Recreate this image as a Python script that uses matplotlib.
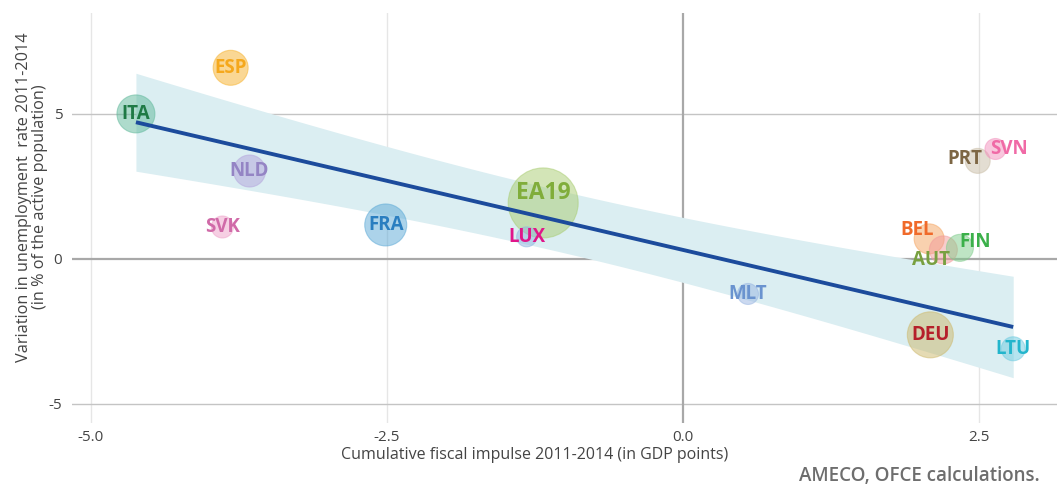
import numpy as np
import matplotlib
matplotlib.use("Agg")
import matplotlib.pyplot as plt

plt.rcParams['font.family'] = ['Open Sans', 'DejaVu Sans']
plt.rcParams['axes.unicode_minus'] = False

# Data
paises = ['ITA', 'ESP', 'NLD', 'SVK', 'FRA', 'EA19', 'LUX', 'MLT',
          'PRT', 'SVN', 'BEL', 'AUT', 'FIN', 'DEU', 'LTU']
impulso = [-4.62, -3.82, -3.66, -3.89, -2.51, -1.18, -1.32, 0.55,
           2.49, 2.64, 2.08, 2.20, 2.34, 2.09, 2.79]
paro = [5.00, 6.59, 3.03, 1.10, 1.17, 1.93, 0.76, -1.21,
        3.38, 3.79, 0.69, 0.31, 0.38, -2.62, -3.10]
peso = [19, 17.5, 16, 11, 21, 35, 10, 10.5, 12.5, 10.5, 15, 14, 13.5, 23, 12]

# regression fit + confidence band parameters
pendiente = -0.953
ordenada = 0.31
ci_a, ci_b, ci_centro = 1.115, 0.134, -1.02

color_texto = ['#1f7a45', '#f5a81c', '#9484c4', '#d06aa8', '#2a7ec0', '#80ad3a',
               '#e0168a', '#6a93cf', '#7d6644', '#f06aa6', '#f06a2a', '#78a040',
               '#3bb04a', '#b5202a', '#22b5cc']
color_burbuja = ['#5fb89a', '#f7b12a', '#b3a3dc', '#eea0c8', '#5aa8d6', '#a8cc70',
                 '#8fb5df', '#98b5e2', '#c9bda6', '#f291bd', '#f5a460', '#f29a9a',
                 '#7fcc8b', '#cdb86a', '#6ccbe0']
# label offsets in points (most labels centred on the bubble)
desplaz = {'EA19': (0, 7), 'PRT': (-9, 1.5), 'SVN': (10, 0), 'BEL': (-9, 6.5),
           'AUT': (-9, -7), 'FIN': (11, 4.5)}

fig = plt.figure(figsize=(10.61, 4.84), dpi=100)
ax = fig.add_axes([72 / 1061, 1 - 423 / 484, (1057 - 72) / 1061, (423 - 13) / 484])

ax.set_xlim(-5.16, 3.16)
ax.set_ylim(-5.66, 8.48)

# grid
for xv in [-5.0, -2.5, 2.5]:
    ax.axvline(xv, color='#e6e6e6', lw=1, zorder=0)
for yv in [-5, 5]:
    ax.axhline(yv, color='#c4c4c4', lw=1, zorder=0)
ax.axhline(0, color='#a8a8a8', lw=1.6, zorder=0)
ax.axvline(0, color='#a8a8a8', lw=1.6, zorder=0)

# regression line and confidence band
xs = np.linspace(min(impulso), max(impulso), 200)
ys = ordenada + pendiente * xs
mitad = np.sqrt(ci_a + ci_b * (xs - ci_centro) ** 2)
ax.fill_between(xs, ys - mitad, ys + mitad, color='#dbeef2', lw=0, zorder=1)

# bubbles
tam = [(1.44 * p) ** 2 for p in peso]
ax.scatter(impulso, paro, s=tam, c=color_burbuja, alpha=0.5,
           edgecolors=color_burbuja, linewidths=0.8, zorder=2)

ax.plot(xs, ys, color='#1c4b9c', lw=2.8, zorder=3, solid_capstyle='butt')

for p, x, y, c in zip(paises, impulso, paro, color_texto):
    dx, dy = desplaz.get(p, (0, 0))
    ax.annotate(p, (x, y), xytext=(dx, dy), textcoords='offset points',
                ha='center', va='center', color=c, fontweight='bold',
                fontsize=16.5 if p == 'EA19' else 13.5, zorder=4)

ax.set_xticks([-5.0, -2.5, 0.0, 2.5])
ax.set_xticklabels(['-5.0', '-2.5', '0.0', '2.5'])
ax.set_yticks([-5, 0, 5])
ax.tick_params(length=0, labelsize=11, colors='#444444', pad=5)
ax.tick_params(axis='y', pad=7)
for s in ax.spines.values():
    s.set_visible(False)

ax.set_xlabel('Cumulative fiscal impulse 2011-2014 (in GDP points)',
              fontsize=11.5, color='#444444')
ax.xaxis.set_label_coords(0.47, -0.058)
ax.set_ylabel('Variation in unemployment  rate 2011-2014\n(in % of the active population)',
              fontsize=11.7, color='#444444', linespacing=1.0)
ax.yaxis.set_label_coords(-0.0244, 0.551)

fig.text(1040 / 1061, 1 - 476 / 484, 'AMECO, OFCE calculations.', ha='right',
         va='center', fontsize=13.5, color='#6e6e6e', fontweight='semibold')

fig.savefig('out.png', dpi=100)
